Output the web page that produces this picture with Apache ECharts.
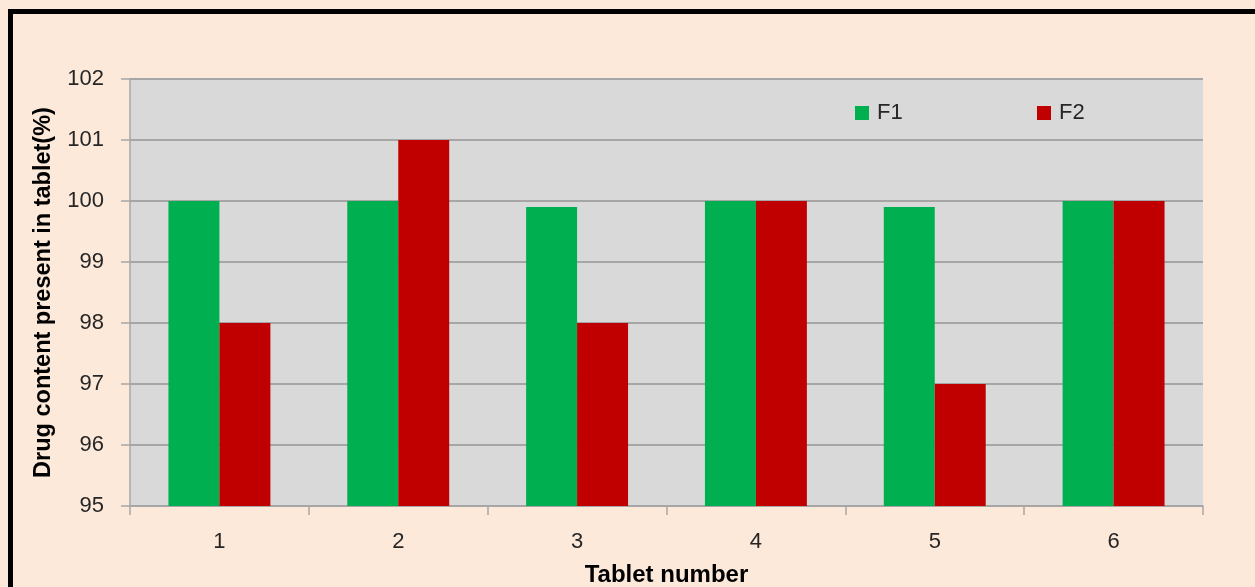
<!DOCTYPE html>
<html>
<head>
<meta charset="utf-8">
<script src="https://cdn.jsdelivr.net/npm/echarts@6/dist/echarts.min.js"></script>
<style>
  html, body { margin: 0; padding: 0; background: #fde9d9; }
  #chart { width: 1255px; height: 587px; }
</style>
</head>
<body>
<div id="chart"></div>
<script>
// Drug content per tablet for two formulations
const categories = ['1', '2', '3', '4', '5', '6'];
const f1Values = [100, 100, 99.9, 100, 99.9, 100];
const f2Values = [98, 101, 98, 100, 97, 100];
const yTicks = { min: 95, max: 102, step: 1 };

const font = 'Liberation Sans, Arial, sans-serif';
const textColor = '#262626';
const gridColor = '#a6a6a6';

const chart = echarts.init(document.getElementById('chart'));
chart.setOption({
  backgroundColor: '#fde9d9',
  animation: false,
  graphic: [{
    type: 'rect',
    z: 100,
    shape: { x: 10.5, y: 11.5, width: 1400, height: 800 },
    style: { fill: null, stroke: '#000', lineWidth: 5 }
  }],
  legend: [
    {
      left: 855, top: 102, padding: 0,
      itemWidth: 14, itemHeight: 14, icon: 'rect',
      data: ['F1'],
      textStyle: { fontFamily: font, fontSize: 22, color: textColor, padding: [0, 0, 0, 3] }
    },
    {
      left: 1037, top: 102, padding: 0,
      itemWidth: 14, itemHeight: 14, icon: 'rect',
      data: ['F2'],
      textStyle: { fontFamily: font, fontSize: 22, color: textColor, padding: [0, 0, 0, 3] }
    }
  ],
  grid: {
    left: 130, top: 79, right: 52, bottom: 81,
    outerBoundsMode: 'none',
    containLabel: false,
    show: true, backgroundColor: '#d9d9d9', borderWidth: 0
  },
  xAxis: {
    type: 'category',
    data: categories,
    name: 'Tablet number',
    nameLocation: 'middle',
    nameGap: 57,
    nameTextStyle: { fontFamily: font, fontSize: 24, fontWeight: 'bold', color: '#000' },
    axisLine: { lineStyle: { color: gridColor, width: 1.5 } },
    axisTick: { show: true, length: 9, lineStyle: { color: gridColor, width: 1.5 } },
    axisLabel: { fontFamily: font, fontSize: 22, color: textColor, margin: 25 }
  },
  yAxis: {
    type: 'value',
    min: yTicks.min, max: yTicks.max, interval: yTicks.step,
    name: 'Drug content present in tablet(%)',
    nameLocation: 'middle',
    nameGap: 74,
    nameTextStyle: { fontFamily: font, fontSize: 23.5, fontWeight: 'bold', color: '#000' },
    axisLine: { show: true, lineStyle: { color: gridColor, width: 1.5 } },
    axisTick: { show: true, length: 9, lineStyle: { color: gridColor, width: 1.5 } },
    axisLabel: { fontFamily: font, fontSize: 22, color: textColor, margin: 26 },
    splitLine: { show: true, lineStyle: { color: gridColor, width: 2 } }
  },
  series: [
    {
      name: 'F1', type: 'bar', data: f1Values,
      itemStyle: { color: '#00b050' },
      barGap: '0%', barCategoryGap: '43%'
    },
    {
      name: 'F2', type: 'bar', data: f2Values,
      itemStyle: { color: '#c00000' },
      barGap: '0%', barCategoryGap: '43%'
    }
  ]
});
</script>
</body>
</html>
